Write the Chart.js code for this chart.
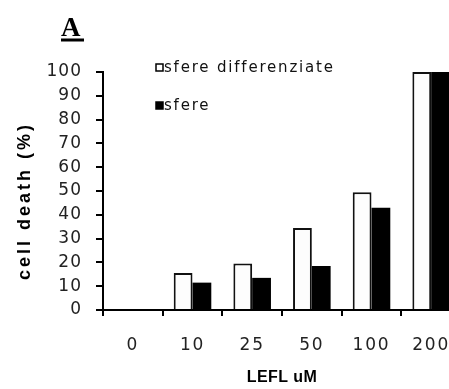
<!DOCTYPE html>
<html><head><meta charset="utf-8">
<script src="https://cdn.jsdelivr.net/npm/chart.js@4/dist/chart.umd.min.js"></script>
<style>html,body{margin:0;padding:0;overflow:hidden;background:#fff;width:449px;height:389px}canvas{display:block}</style>
</head><body>
<canvas id="c" width="470" height="389" style="width:470px;height:389px"></canvas>
<script>
const categories = ['0', '10', '25', '50', '100', '200'];
const seriesNames = ['sfere differenziate', 'sfere'];
const sfereDifferenziate = [0, 15.5, 19.5, 34.5, 49.5, 100];
const sfere = [0, 11.5, 13.5, 18.5, 43, 100];
const yTickValues = [0, 10, 20, 30, 40, 50, 60, 70, 80, 90, 100];
const xTitle = 'LEFL uM';
const yTitle = 'cell death (%)';
const panelLabel = 'A';

function wrapSpacing(scale, labelSp, titleSp, titleShift) {
  if (scale.__sp) return;
  scale.__sp = true;
  const dl = scale.drawLabels, dt = scale.drawTitle;
  scale.drawLabels = function (a) { const c = this.ctx; c.save(); c.letterSpacing = labelSp + 'px'; dl.call(this, a); c.restore(); };
  scale.drawTitle = function (a) { const c = this.ctx; c.save(); c.letterSpacing = titleSp + 'px'; c.translate(0, titleShift || 0); dt.call(this, a); c.restore(); };
}

const overlay = {
  id: 'overlay',
  afterDraw(chart) {
    const c = chart.ctx;
    c.save();
    c.fillStyle = '#000';
    c.font = 'bold 27px "Liberation Serif"';
    c.textBaseline = 'alphabetic';
    c.textAlign = 'left';
    c.fillText(panelLabel, 61, 36);
    c.fillRect(61, 38.5, 23, 3);
    const items = [
      { name: seriesNames[0], fill: '#fff', y: 68 },
      { name: seriesNames[1], fill: '#000', y: 106 }
    ];
    c.font = '15px "DejaVu Sans"';
    c.letterSpacing = '1.8px';
    c.textBaseline = 'middle';
    items.forEach(it => {
      c.fillStyle = it.fill;
      c.fillRect(156, it.y - 4, 7, 7);
      c.strokeStyle = '#000';
      c.lineWidth = 1.5;
      c.strokeRect(156, it.y - 4, 7, 7);
      c.fillStyle = '#111';
      c.fillText(it.name, 164, it.y);
    });
    c.restore();
  }
};

new Chart(document.getElementById('c'), {
  type: 'bar',
  data: {
    labels: categories,
    datasets: [
      { label: seriesNames[0], data: sfereDifferenziate, backgroundColor: '#fdfdfd', borderColor: '#111', borderWidth: 2 },
      { label: seriesNames[1], data: sfere, backgroundColor: '#000', borderColor: '#000', borderWidth: 0 }
    ]
  },
  options: {
    responsive: false,
    devicePixelRatio: 1,
    animation: false,
    layout: { padding: { top: 72, right: 9, bottom: 0, left: 0 } },
    datasets: { bar: { categoryPercentage: 0.63, barPercentage: 1.0 } },
    plugins: { legend: { display: false }, tooltip: { enabled: false } },
    scales: {
      x: {
        grid: { drawOnChartArea: false, drawTicks: true, tickLength: 6, color: '#000', lineWidth: 2, offset: true },
        border: { display: true, color: '#000', width: 2 },
        ticks: { color: '#222', font: { family: 'DejaVu Sans', size: 17 }, padding: 19, maxRotation: 0 },
        title: { display: true, text: xTitle, color: '#000', font: { family: 'Liberation Sans', size: 16, weight: 'bold' }, padding: { top: 0, bottom: 2 } },
        afterFit(s) { s.height = 79; wrapSpacing(s, 1.8, 0.4, 0); }
      },
      y: {
        min: 0, max: 100,
        afterBuildTicks(s) { s.ticks = yTickValues.map(v => ({ value: v })); },
        grid: { drawOnChartArea: false, drawTicks: true, tickLength: 7, color: '#000', lineWidth: 2 },
        border: { display: true, color: '#000', width: 2 },
        ticks: { color: '#222', font: { family: 'DejaVu Sans', size: 17 }, padding: 14 },
        title: { display: true, text: yTitle, color: '#000', font: { family: 'Liberation Sans', size: 18, weight: 'bold' }, padding: { top: 14, bottom: 0 } },
        afterFit(s) { s.width = 103; wrapSpacing(s, 1, 3, 10); }
      }
    }
  },
  plugins: [overlay]
});
</script>
</body></html>
